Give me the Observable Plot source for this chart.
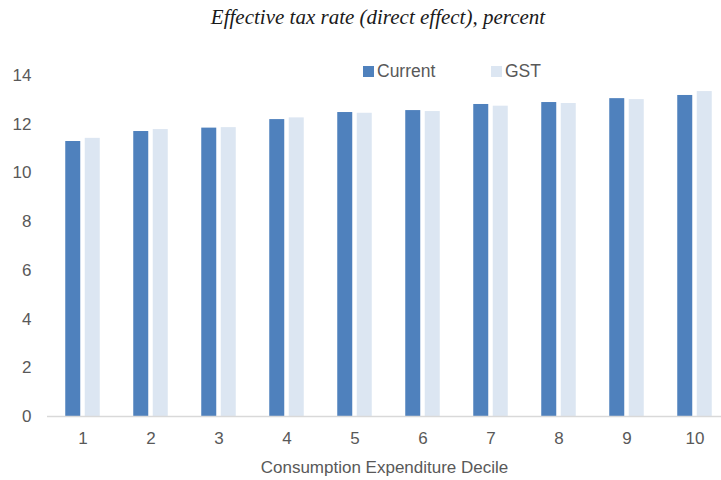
<!DOCTYPE html>
<html>
<head>
<meta charset="utf-8">
<script src="https://cdn.jsdelivr.net/npm/d3@7"></script>
<script src="https://cdn.jsdelivr.net/npm/@observablehq/plot@0.6"></script>
<style>
  html, body { margin: 0; padding: 0; background: #ffffff; }
  #wrap { position: relative; width: 721px; height: 480px; overflow: hidden; background: #fff; }
  #title { position: absolute; left: 0; top: 5px; width: 756px; text-align: center;
    font-family: "Liberation Serif", "DejaVu Serif", serif; font-style: italic; font-size: 21px; color: #1a1a1a; }
  #chart { position: absolute; left: 0; top: 40px; }
  .leg { position: absolute; top: 62px; font-family: "Liberation Sans", Arial, sans-serif; font-size: 17.5px; color: #595959;
    display: flex; align-items: center; line-height: 18px; }
  .sw { display: inline-block; width: 11px; height: 11px; margin-right: 3px; }
</style>
</head>
<body>
<div id="wrap">
  <div id="title"></div>
  <div id="chart"></div>
  <div id="legend"></div>
</div>
<script>
const titleText = "Effective tax rate (direct effect), percent";
const xLabel = "Consumption Expenditure Decile";
const deciles = [1, 2, 3, 4, 5, 6, 7, 8, 9, 10];
const currentRates = [11.29, 11.70, 11.84, 12.19, 12.48, 12.56, 12.81, 12.89, 13.05, 13.18];
const gstRates = [11.42, 11.78, 11.86, 12.26, 12.45, 12.52, 12.74, 12.85, 13.01, 13.34];
const seriesNames = ["Current", "GST"];
const seriesColors = ["#4f81bd", "#dce6f2"];
const yTicks = [0, 2, 4, 6, 8, 10, 12, 14];

document.getElementById("title").textContent = titleText;

const currentData = deciles.map((d, i) => ({decile: d, series: seriesNames[0], value: currentRates[i]}));
const gstData = deciles.map((d, i) => ({decile: d, series: seriesNames[1], value: gstRates[i]}));

const chart = Plot.plot({
  width: 721,
  height: 440,
  marginTop: 35,
  marginBottom: 64,
  marginLeft: 47,
  marginRight: 0,
  style: {fontFamily: "'Liberation Sans', Arial, sans-serif", fontSize: "17px", color: "#595959", background: "transparent", overflow: "visible"},
  x: {domain: deciles, range: [46, 731], paddingInner: 0.7735, paddingOuter: 0.38675, label: null},
  y: {domain: [0, 14], label: null},
  color: {domain: seriesNames, range: seriesColors},
  marks: [
    Plot.barY(currentData, {x: "decile", y: "value", fill: "series", dx: -9.75}),
    Plot.barY(gstData, {x: "decile", y: "value", fill: "series", dx: 9.75}),
    Plot.ruleY([0], {stroke: "#d9d9d9", strokeWidth: 1.5}),
    Plot.axisY({ticks: yTicks, tickSize: 0, tickPadding: 16, label: null, fill: "#595959"}),
    Plot.axisX({tickSize: 0, tickPadding: 15, label: xLabel, labelAnchor: "center", labelOffset: 56, fill: "#595959"})
  ]
});
document.getElementById("chart").appendChild(chart);

const legend = document.getElementById("legend");
const legLefts = [363, 491];
seriesNames.forEach((name, i) => {
  const item = document.createElement("div");
  item.className = "leg";
  item.style.left = legLefts[i] + "px";
  const sw = document.createElement("span");
  sw.className = "sw";
  sw.style.background = seriesColors[i];
  item.appendChild(sw);
  item.appendChild(document.createTextNode(name));
  legend.appendChild(item);
});
</script>
</body>
</html>
